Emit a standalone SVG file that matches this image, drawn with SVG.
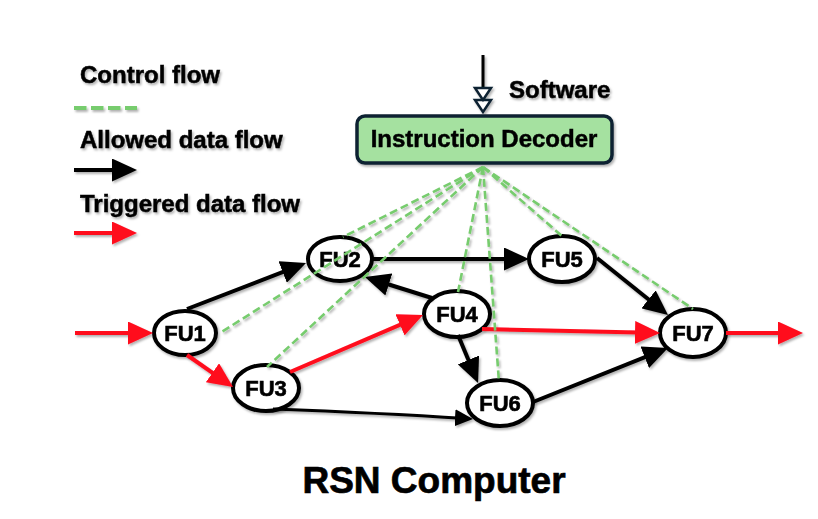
<svg xmlns="http://www.w3.org/2000/svg" width="818" height="519" viewBox="0 0 818 519">
<style>
  .lbl{font-family:"Liberation Sans",Arial,sans-serif;font-weight:bold;font-size:24px;fill:#000;stroke:#000;stroke-width:0.5}
  .nt{font-family:"Liberation Sans",Arial,sans-serif;font-weight:bold;font-size:22px;fill:#000;stroke:#000;stroke-width:0.6;text-anchor:middle}
  .node{fill:#fff;stroke:#000;stroke-width:4}
  .blk{stroke:#000;stroke-width:4;fill:none}
  .thin{stroke:#000;stroke-width:2.8;fill:none}
  .red{stroke:#ff0a1e;stroke-width:4;fill:none}
  .ctl{stroke:#77cc6e;stroke-width:2.6;fill:none;stroke-dasharray:8 4}
</style>
<defs>
  <filter id="sh" x="-20%" y="-20%" width="140%" height="140%">
    <feDropShadow dx="1.5" dy="2" stdDeviation="1.2" flood-color="#000" flood-opacity="0.3"/>
  </filter>
  <marker id="ab" markerUnits="userSpaceOnUse" markerWidth="25" markerHeight="23" refX="15" refY="11.5" orient="auto">
    <path d="M0,0 L25,11.5 L0,23 Z" fill="#000"/>
  </marker>
  <marker id="ar" markerUnits="userSpaceOnUse" markerWidth="25" markerHeight="23" refX="15" refY="11.5" orient="auto">
    <path d="M0,0 L25,11.5 L0,23 Z" fill="#ff0a1e"/>
  </marker>
  <marker id="as" markerUnits="userSpaceOnUse" markerWidth="18" markerHeight="17" refX="11" refY="8.5" orient="auto">
    <path d="M0,0 L18,8.5 L0,17 Z" fill="#000"/>
  </marker>
</defs>
<rect width="818" height="519" fill="#fff"/>

<g id="legend" filter="url(#sh)">
  <text class="lbl" x="80" y="83">Control flow</text>
  <line class="ctl" x1="74" y1="108" x2="137" y2="108" style="stroke-width:4;stroke-dasharray:12.5 4.5"/>
  <text class="lbl" x="80" y="148">Allowed data flow</text>
  <line class="blk" x1="74" y1="170" x2="127" y2="170" marker-end="url(#ab)"/>
  <text class="lbl" x="80" y="212">Triggered data flow</text>
  <line class="red" x1="74" y1="233" x2="127" y2="233" marker-end="url(#ar)"/>
</g>

<g id="software" filter="url(#sh)">
  <line x1="483" y1="55" x2="483" y2="88" stroke="#000" stroke-width="3"/>
  <path d="M475,88 L491,88 L483,100 Z M475,100 L491,100 L483,112 Z" fill="#fff" stroke="#0f2233" stroke-width="2.5" stroke-linejoin="miter"/>
  <text class="lbl" x="509" y="98">Software</text>
</g>

<g id="decoder" filter="url(#sh)">
  <rect x="357" y="116" width="255" height="47" rx="8" fill="#a5e1a0" stroke="#0f2233" stroke-width="3.5"/>
  <text class="lbl" x="484" y="147" text-anchor="middle">Instruction Decoder</text>
</g>

<g id="FU1" filter="url(#sh)"><ellipse class="node" cx="185" cy="333" rx="31" ry="22"/><text class="nt" x="185" y="341">FU1</text></g>
<g id="FU2" filter="url(#sh)"><ellipse class="node" cx="340" cy="259" rx="32" ry="22"/><text class="nt" x="340" y="267">FU2</text></g>
<g id="FU3" filter="url(#sh)"><ellipse class="node" cx="266" cy="388" rx="33" ry="23"/><text class="nt" x="266" y="396">FU3</text></g>
<g id="FU4" filter="url(#sh)"><ellipse class="node" cx="457" cy="314" rx="33" ry="23"/><text class="nt" x="457" y="322">FU4</text></g>
<g id="FU5" filter="url(#sh)"><ellipse class="node" cx="562" cy="259" rx="33" ry="23"/><text class="nt" x="562" y="267">FU5</text></g>
<g id="FU6" filter="url(#sh)"><ellipse class="node" cx="500" cy="403" rx="33" ry="23"/><text class="nt" x="500" y="411">FU6</text></g>
<g id="FU7" filter="url(#sh)"><ellipse class="node" cx="693" cy="333" rx="33" ry="24"/><text class="nt" x="693" y="341">FU7</text></g>

<g id="connectors" filter="url(#sh)">
  <line class="red" x1="75" y1="333" x2="143" y2="333" marker-end="url(#ar)"/>
  <line class="blk" x1="187" y1="309" x2="296.7" y2="266.6" marker-end="url(#ab)"/>
  <line class="red" x1="187" y1="355" x2="224.8" y2="381.3" marker-end="url(#ar)"/>
  <line class="red" x1="290" y1="372" x2="413.8" y2="318.9" marker-end="url(#ar)"/>
  <path class="thin" d="M273,409 Q380,413 466,418.5" marker-end="url(#as)"/>
  <line class="blk" x1="373" y1="259" x2="519" y2="259" marker-end="url(#ab)"/>
  <line class="blk" x1="432" y1="298" x2="374.5" y2="280" marker-end="url(#ab)"/>
  <line class="red" x1="482" y1="329" x2="650" y2="332.8" marker-end="url(#ar)"/>
  <line class="blk" x1="458" y1="335" x2="474.2" y2="373.8" marker-end="url(#ab)"/>
  <line class="blk" x1="597" y1="258" x2="660.2" y2="308.7" marker-end="url(#ab)"/>
  <line class="blk" x1="533" y1="402" x2="658.7" y2="351.7" marker-end="url(#ab)"/>
  <line class="red" x1="726" y1="333" x2="793" y2="333" marker-end="url(#ar)"/>
  <line class="ctl" x1="483" y1="167" x2="343" y2="237"/>
  <line class="ctl" x1="483" y1="167" x2="220" y2="333"/>
  <line class="ctl" x1="483" y1="167" x2="267" y2="367"/>
  <line class="ctl" x1="483" y1="167" x2="458" y2="292"/>
  <line class="ctl" x1="483" y1="167" x2="499" y2="382"/>
  <line class="ctl" x1="483" y1="167" x2="563" y2="237"/>
  <line class="ctl" x1="483" y1="167" x2="693" y2="309"/>
</g>

<text class="lbl" x="434" y="493" text-anchor="middle" style="font-size:37px;stroke-width:0.7">RSN Computer</text>
</svg>
